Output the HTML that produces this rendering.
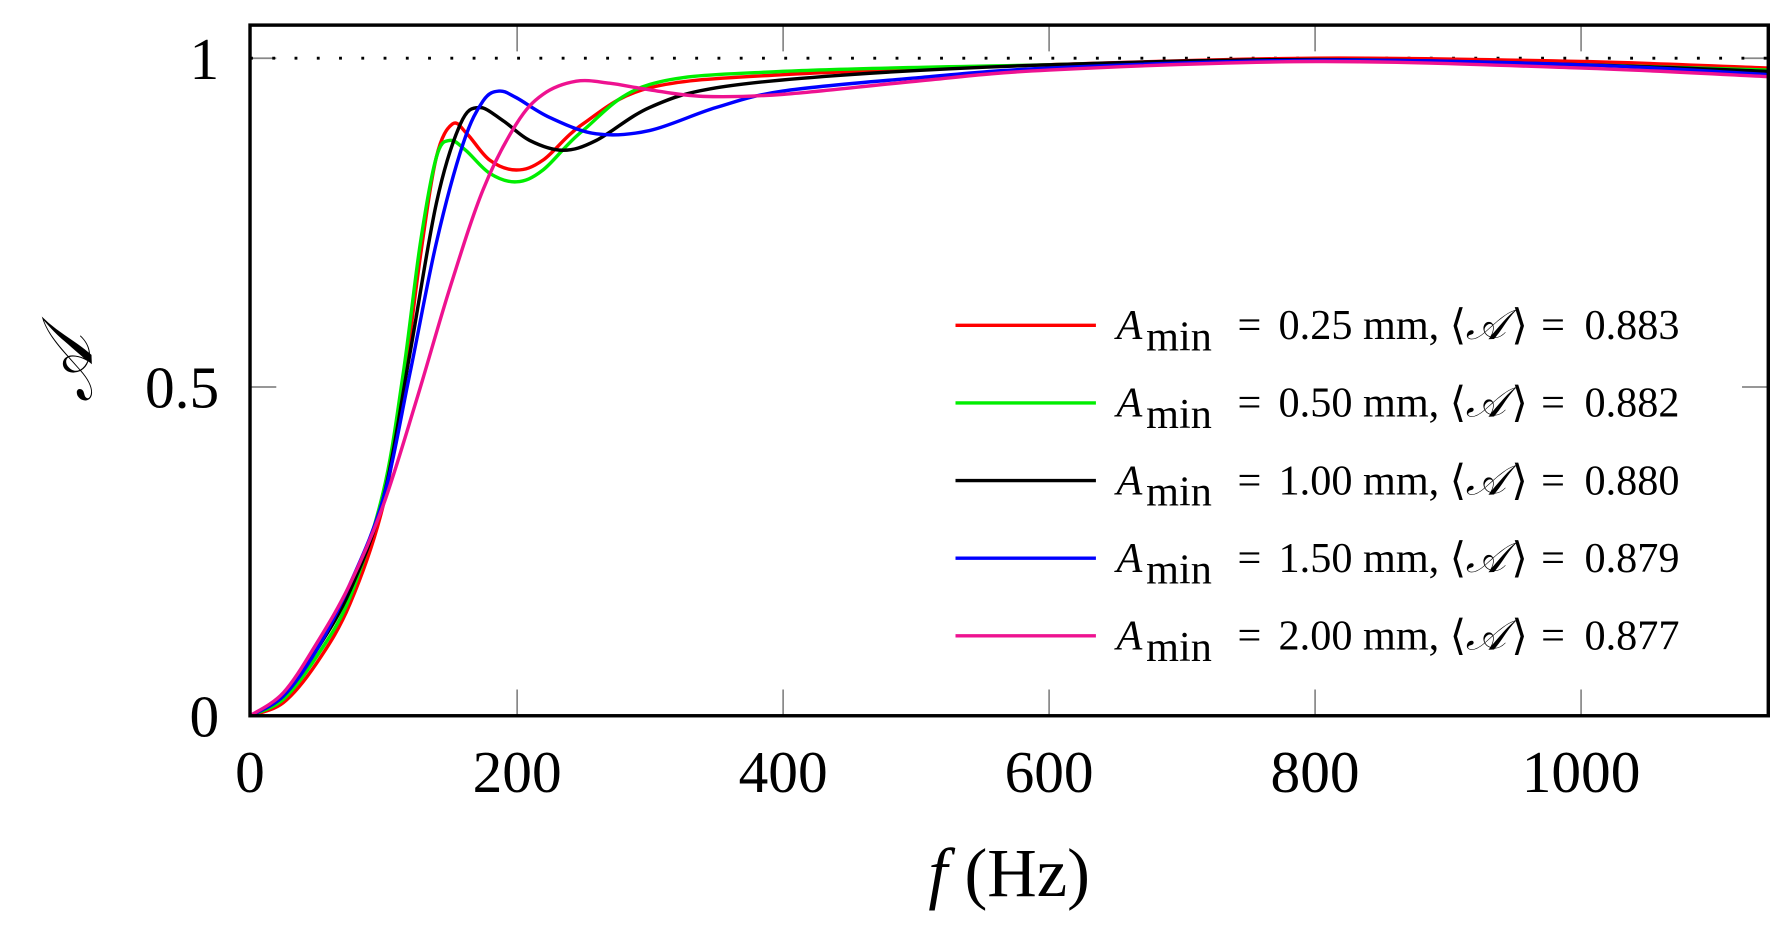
<!DOCTYPE html>
<html><head><meta charset="utf-8"><style>html,body{margin:0;padding:0;background:#fff}svg{display:block}</style></head><body>
<svg id="s" width="1790" height="946" viewBox="0 0 1568 828.7" xmlns="http://www.w3.org/2000/svg" font-family="Liberation Serif, serif">
<g stroke="#888" stroke-width="1.5">
<line x1="453" y1="22" x2="453" y2="45"/><line x1="686" y1="22" x2="686" y2="45"/><line x1="919" y1="22" x2="919" y2="45"/><line x1="1152" y1="22" x2="1152" y2="45"/><line x1="1385" y1="22" x2="1385" y2="45"/>
<line x1="453" y1="627" x2="453" y2="604"/><line x1="686" y1="627" x2="686" y2="604"/><line x1="919" y1="627" x2="919" y2="604"/><line x1="1152" y1="627" x2="1152" y2="604"/><line x1="1385" y1="627" x2="1385" y2="604"/>
<line x1="219" y1="51" x2="242" y2="51"/><line x1="219" y1="339" x2="242" y2="339"/>
<line x1="1549" y1="51" x2="1526" y2="51"/><line x1="1549" y1="339" x2="1526" y2="339"/>
</g>
<line x1="219" y1="51" x2="1549" y2="51" stroke="#000" stroke-width="2.5" stroke-dasharray="2.5,17"/>
<g id="curves" fill="none" stroke-width="3"></g>
<rect x="219" y="22" width="1330" height="605" fill="none" stroke="#000" stroke-width="3"/>
<g font-size="52" text-anchor="middle">
<text x="219" y="694">0</text><text x="453" y="694">200</text><text x="686" y="694">400</text><text x="919" y="694">600</text><text x="1152" y="694">800</text><text x="1385" y="694">1000</text>
</g>
<g font-size="52" text-anchor="end">
<text x="192" y="645">0</text><text x="192" y="357">0.5</text><text x="192" y="69">1</text>
</g>
<text x="884" y="785" font-size="60" text-anchor="middle"><tspan font-style="italic">f</tspan> (Hz)</text>
<text transform="translate(80,323) rotate(-90)" font-size="62" font-style="italic" text-anchor="middle">𝒜</text>
<g id="leg" font-size="37"></g>
</svg>
<script>
var X=f=>219+f*1.1665,Y=a=>627-576*a;
var S=[
["#ff0000",[[0,0],[25,.02],[50,.08],[75,.17],[100,.32],[115,.5],[128,.7],[140,.85],[152,.9],[163,.885],[180,.845],[200,.83],[220,.845],[250,.9],[300,.955],[400,.975],[600,.99],[800,1],[1000,.995],[1140,.985]]],
["#00ee00",[[0,0],[25,.025],[50,.09],[75,.18],[100,.34],[115,.52],[128,.72],[140,.85],[150,.875],[162,.86],[180,.825],[200,.812],[220,.83],[250,.89],[300,.96],[400,.98],[600,.99],[800,.998],[1000,.99],[1140,.982]]],
["#000000",[[0,0],[25,.03],[50,.1],[75,.19],[100,.33],[120,.55],[140,.78],[158,.9],[172,.925],[190,.905],[210,.875],[235,.86],[260,.875],[300,.925],[350,.955],[450,.975],[600,.99],[800,.998],[1000,.99],[1140,.98]]],
["#0000ff",[[0,0],[25,.03],[50,.1],[75,.2],[100,.33],[120,.52],[140,.72],[160,.87],[175,.935],[187,.95],[200,.94],[225,.91],[260,.885],[300,.89],[350,.925],[400,.95],[500,.97],[600,.985],[800,.997],[1000,.99],[1140,.975]]],
["#ee1290",[[0,0],[25,.035],[50,.11],[75,.2],[100,.32],[125,.48],[150,.65],[175,.8],[200,.9],[220,.945],[245,.965],[270,.962],[300,.952],[340,.942],[400,.945],[500,.965],[600,.982],[800,.995],[1000,.985],[1140,.972]]]];
function path(p){var q=p.map(d=>[X(d[0]),Y(d[1])]);var s="M"+q[0];for(var i=0;i<q.length-1;i++){var a=q[i>0?i-1:0],b=q[i],c=q[i+1],d=q[i+2<q.length?i+2:i+1];s+="C"+(b[0]+(c[0]-a[0])/6)+","+(b[1]+(c[1]-a[1])/6)+" "+(c[0]-(d[0]-b[0])/6)+","+(c[1]-(d[1]-b[1])/6)+" "+c[0]+","+c[1];}return s;}
var g=document.getElementById("curves"),h="";S.forEach(s=>{h+='<path stroke="'+s[0]+'" d="'+path(s[1])+'"/>';});g.innerHTML=h;
var L=["0.25","0.50","1.00","1.50","2.00"],V=["0.883","0.882","0.880","0.879","0.877"],lh="";
for(var i=0;i<5;i++){var y=285+68*i,t=y+12;lh+='<line x1="837" y1="'+y+'" x2="960" y2="'+y+'" stroke="'+S[i][0]+'" stroke-width="3"/>'+
'<text x="978" y="'+t+'" font-style="italic">A</text><text x="1004" y="'+(t+10)+'">min</text>'+
'<text x="1084" y="'+t+'">=</text><text x="1120" y="'+t+'">'+L[i]+' mm,</text>'+
'<text x="1270" y="'+t+'">⟨</text><text x="1284" y="'+t+'" font-style="italic">𝒜</text><text x="1324" y="'+t+'">⟩</text>'+
'<text x="1350" y="'+t+'">=</text><text x="1388" y="'+t+'">'+V[i]+'</text>';}
document.getElementById("leg").innerHTML=lh;
</script>
</body></html>
